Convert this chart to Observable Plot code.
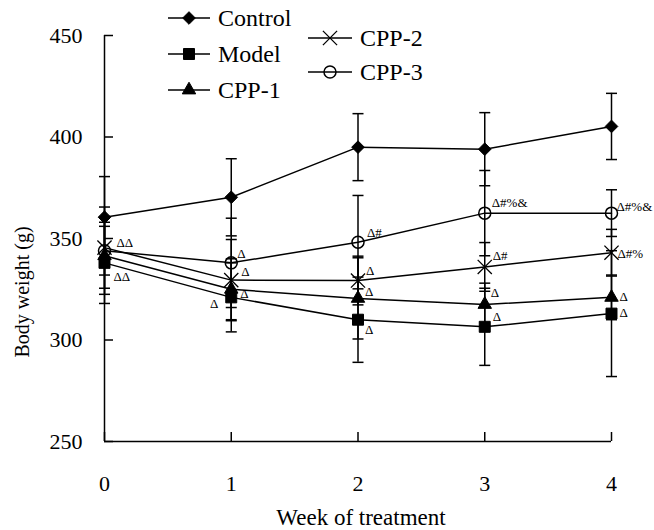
<!DOCTYPE html>
<html>
<head>
<meta charset="utf-8">
<script src="https://cdn.jsdelivr.net/npm/d3@7"></script>
<script src="https://cdn.jsdelivr.net/npm/@observablehq/plot@0.6"></script>
<style>
  body { margin: 0; background: #fff; }
  #wrap { position: relative; width: 654px; height: 530px; font-family: "Liberation Serif", "Times New Roman", serif; }
  #wrap svg, #wrap svg text, #wrap svg tspan { font-family: "Liberation Serif", "Times New Roman", serif !important; font-variant-numeric: normal !important; }
  #overlay { position: absolute; left: 0; top: 0; pointer-events: none; }
</style>
</head>
<body>
<div id="wrap"></div>
<script>
// ---------- data ----------
const weeks = [0, 1, 2, 3, 4];
const groups = ["Control", "Model", "CPP-1", "CPP-2", "CPP-3"];

const controlMean = [360.5, 370.3, 395.0, 394.0, 405.2];
const modelMean   = [338.0, 321.0, 310.0, 306.5, 313.0];
const cpp1Mean    = [341.5, 325.0, 320.5, 317.5, 321.0];
const cpp2Mean    = [345.5, 329.5, 329.3, 336.0, 343.0];
const cpp3Mean    = [344.0, 338.0, 348.2, 362.5, 362.5];

const controlSD = [20, 19, 16.5, 18, 16.3];
const modelSD   = [20, 17, 21, 19, 31];
const cpp1SD    = [19, 15, 20, 10.5, 11];
const cpp2SD    = [20, 20, 12, 12, 11.5];
const cpp3SD    = [12, 22, 23, 21, 11.5];

const yTicks = [250, 300, 350, 400, 450];
const xTicks = [0, 1, 2, 3, 4];
const xTitle = "Week of treatment";
const yTitle = "Body weight (g)";

const annWeeks  = [0, 0, 1, 1, 1, 1, 2, 2, 2, 2, 3, 3, 3, 3, 4, 4, 4, 4];
const annGroups = ["CPP-2", "Model", "CPP-3", "CPP-2", "CPP-1", "Model",
                   "CPP-3", "CPP-2", "CPP-1", "Model",
                   "CPP-3", "CPP-2", "CPP-1", "Model",
                   "CPP-3", "CPP-2", "CPP-1", "Model"];
const annTexts  = ["ΔΔ", "ΔΔ", "Δ", "Δ", "Δ", "Δ",
                   "Δ#", "Δ", "Δ", "Δ",
                   "Δ#%&", "Δ#", "Δ", "Δ",
                   "Δ#%&", "Δ#%", "Δ", "Δ"];

// ---------- build table ----------
const meansBy = {"Control": controlMean, "Model": modelMean, "CPP-1": cpp1Mean, "CPP-2": cpp2Mean, "CPP-3": cpp3Mean};
const sdBy = {"Control": controlSD, "Model": modelSD, "CPP-1": cpp1SD, "CPP-2": cpp2SD, "CPP-3": cpp3SD};
const rows = groups.flatMap(g => weeks.map((w, i) => ({group: g, week: w, value: meansBy[g][i], sd: sdBy[g][i]})));

// ---------- layout / styles ----------
const W = 654, H = 530;
const mL = 104, mR = 43, mT = 35, mB = 89;
const frameW = W - mL - mR, frameH = H - mT - mB;
const tickLen = 9;
const font = "Liberation Serif";

const markerStyle = {
  "Control": {symbol: "diamond2", r: 5.7, fill: "black", stroke: "black", strokeWidth: 1},
  "Model":   {symbol: "square",   r: 6.2, fill: "black", stroke: "black", strokeWidth: 1},
  "CPP-1":   {symbol: "triangle", r: 5.0, fill: "black", stroke: "black", strokeWidth: 1},
  "CPP-2":   {symbol: "times",    r: 6.5, fill: "none",  stroke: "black", strokeWidth: 1.3},
  "CPP-3":   {symbol: "circle",   r: 6.0, fill: "none",  stroke: "black", strokeWidth: 1.5}
};
const d3Sym = {diamond2: d3.symbolDiamond2, square: d3.symbolSquare, triangle: d3.symbolTriangle, times: d3.symbolTimes, circle: d3.symbolCircle};

const capSymbol = {draw(ctx) { ctx.moveTo(-5.5, 0); ctx.lineTo(5.5, 0); }};

// annotation placement [dx, dy, anchor]
const annPlace = [
  [12, -4.5, "start"], [9, 14, "start"],
  [6, -9, "start"], [10, -8, "start"], [9, 5, "start"], [-13, 6, "end"],
  [9, -9, "start"], [8, -10, "start"], [7, -7, "start"], [7, 10, "start"],
  [7, -10, "start"], [8, -11, "start"], [6, -12, "start"], [8, -10, "start"],
  [5, -6, "start"], [6, 1, "start"], [8, -1, "start"], [8, -1, "start"]
];

const annMarks = annTexts.map((t, i) => {
  const g = annGroups[i], w = annWeeks[i];
  const v = meansBy[g][weeks.indexOf(w)];
  const [dx, dy, anchor] = annPlace[i];
  return Plot.text([{week: w, value: v, text: t}], {
    x: "week", y: "value", text: "text", dx, dy, textAnchor: anchor,
    lineAnchor: "middle", fontSize: 13, fontFamily: font, fill: "black"
  });
});

const dotMarks = groups.map(g => Plot.dot(rows.filter(d => d.group === g), {
  x: "week", y: "value", ...markerStyle[g]
}));

const chart = Plot.plot({
  width: W, height: H,
  marginLeft: mL, marginRight: mR, marginTop: mT, marginBottom: mB,
  x: {domain: [0, 4]},
  y: {domain: [250, 450]},
  style: {background: "white", fontFamily: font, overflow: "visible"},
  marks: [
    // axes
    Plot.ruleX([0], {stroke: "black", strokeWidth: 1.5}),
    Plot.ruleY([250], {stroke: "black", strokeWidth: 1.5}),
    Plot.tickY(yTicks, {y: d => d, insetRight: frameW - tickLen, stroke: "black", strokeWidth: 1.5}),
    Plot.tickX(xTicks, {x: d => d, insetTop: frameH - tickLen, stroke: "black", strokeWidth: 1.5}),
    Plot.axisY({ticks: yTicks, tickSize: 0, tickPadding: 22, fontSize: 22, fontFamily: font, label: null, tickFormat: d => String(d)}),
    Plot.axisX({ticks: xTicks, tickSize: 0, tickPadding: 34, fontSize: 22, fontFamily: font, label: null, tickFormat: d => String(d)}),
    Plot.text([xTitle], {frameAnchor: "bottom", dx: 3, dy: 76, lineAnchor: "middle", fontSize: 23, fontFamily: font, fill: "black"}),
    // series
    Plot.line(rows, {x: "week", y: "value", z: "group", stroke: "black", strokeWidth: 1.5}),
    Plot.ruleX(rows, {x: "week", y1: d => d.value - d.sd, y2: d => d.value + d.sd, stroke: "black", strokeWidth: 1.5}),
    Plot.dot(rows, {x: "week", y: d => d.value - d.sd, symbol: capSymbol, fill: "none", stroke: "black", strokeWidth: 1.5}),
    Plot.dot(rows, {x: "week", y: d => d.value + d.sd, symbol: capSymbol, fill: "none", stroke: "black", strokeWidth: 1.5}),
    ...dotMarks,
    ...annMarks
  ]
});

const wrap = document.getElementById("wrap");
wrap.appendChild(chart);

// ---------- overlay: legend + y-axis title ----------
const legendPos = {
  "Control": [168, 210, 18],
  "Model":   [168, 210, 54],
  "CPP-1":   [168, 210, 90],
  "CPP-2":   [308, 352, 38],
  "CPP-3":   [308, 352, 72]
};
const ov = d3.select(wrap).append("svg").attr("id", "overlay").attr("width", W).attr("height", H);
groups.forEach(g => {
  const [x1, x2, y] = legendPos[g];
  const s = markerStyle[g];
  const gg = ov.append("g");
  gg.append("line").attr("x1", x1).attr("x2", x2).attr("y1", y).attr("y2", y).attr("stroke", "black").attr("stroke-width", 1.5);
  gg.append("path")
    .attr("transform", `translate(${(x1 + x2) / 2},${y})`)
    .attr("d", d3.symbol(d3Sym[s.symbol], Math.PI * s.r * s.r)())
    .attr("fill", s.fill).attr("stroke", s.stroke).attr("stroke-width", s.strokeWidth);
  gg.append("text").attr("x", x2 + 8).attr("y", y).attr("dy", "0.35em")
    .attr("font-family", font).attr("font-size", 24).attr("fill", "black").text(g);
});
ov.append("text")
  .attr("transform", "translate(22,292) rotate(-90)")
  .attr("text-anchor", "middle").attr("dy", "0.35em")
  .attr("font-family", font).attr("font-size", 20).attr("fill", "black")
  .text(yTitle);
</script>
</body>
</html>
